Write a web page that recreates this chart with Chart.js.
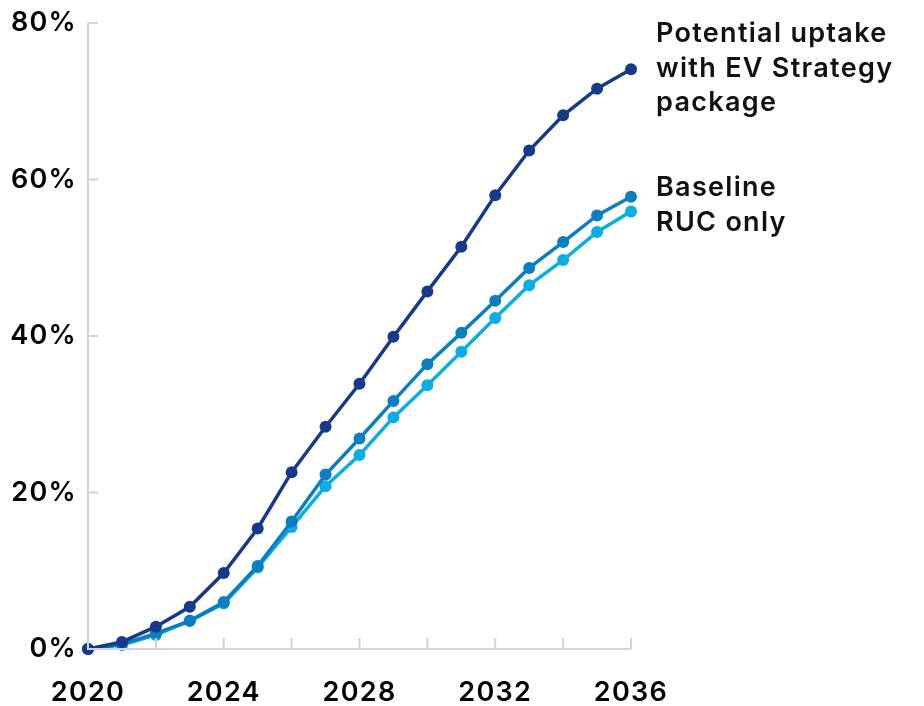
<!DOCTYPE html>
<html>
<head>
<meta charset="utf-8">
<script src="https://cdn.jsdelivr.net/npm/chart.js@4/dist/chart.umd.min.js"></script>
<style>
html,body{margin:0;padding:0;background:#fff;}
#wrap{width:924px;height:706px;position:relative;}
</style>
</head>
<body>
<div id="wrap"><canvas id="c" width="924" height="706"></canvas></div>
<script>
const years = [2020,2021,2022,2023,2024,2025,2026,2027,2028,2029,2030,2031,2032,2033,2034,2035,2036];
const evStrategy = [0,0.9,2.85,5.4,9.7,15.4,22.6,28.4,33.9,39.9,45.7,51.4,58.0,63.7,68.2,71.6,74.1];
const baseline   = [0,0.6,2.0,3.6,6.0,10.6,16.3,22.3,26.9,31.7,36.4,40.4,44.5,48.7,52.0,55.4,57.8];
const rucOnly    = [0,0.5,1.8,3.6,5.8,10.4,15.6,20.8,24.8,29.6,33.7,38.0,42.3,46.5,49.7,53.3,55.9];
const yTicks = [0,20,40,60,80];
const xLabelYears = [2020,2024,2028,2032,2036];
const labelEV = ['Potential uptake','with EV Strategy','package'];
const labelBase = ['Baseline','RUC only'];

const FONT = 'Inter, "Noto Sans", sans-serif';
const AXIS = '#d3d3d3';
const SPACING = '1.3px';

function pts(arr){ return years.map((y,i)=>({x:y,y:arr[i]})); }

const ticksPlugin = {
  id:'insideTicks',
  beforeUpdate(chart){ chart.ctx.letterSpacing = SPACING; },
  beforeLayout(chart){ chart.ctx.letterSpacing = SPACING; },
  beforeDraw(chart){ chart.ctx.letterSpacing = SPACING; },
  afterDraw(chart){
    const {ctx, chartArea:a, scales:{x,y}} = chart;
    ctx.save();
    ctx.strokeStyle = AXIS; ctx.lineWidth = 2;
    ctx.beginPath();
    ctx.moveTo(a.left, a.top); ctx.lineTo(a.left, a.bottom); ctx.lineTo(a.right, a.bottom);
    yTicks.forEach(v=>{ const py=y.getPixelForValue(v); ctx.moveTo(a.left,py); ctx.lineTo(a.left+10,py); });
    for(let yr=2022; yr<=2036; yr+=2){ const px=x.getPixelForValue(yr); ctx.moveTo(px,a.bottom); ctx.lineTo(px,a.bottom-11); }
    ctx.stroke();
    ctx.restore();
  },
  afterDatasetsDraw(chart){
    const {ctx, chartArea:a} = chart;
    ctx.save();
    ctx.letterSpacing = SPACING;
    ctx.fillStyle = '#111';
    ctx.font = '600 27px ' + FONT;
    ctx.textBaseline = 'middle';
    ctx.textAlign = 'left';
    const lh = 34.5;
    const m0 = chart.getDatasetMeta(0).data; const p0 = m0[m0.length-1];
    const tx = a.right + 25;
    labelEV.forEach((t,i)=> ctx.fillText(t, tx, p0.y - 35 + i*lh));
    const m1 = chart.getDatasetMeta(1).data; const p1 = m1[m1.length-1];
    const m2 = chart.getDatasetMeta(2).data; const p2 = m2[m2.length-1];
    const mid = (p1.y+p2.y)/2;
    labelBase.forEach((t,i)=> ctx.fillText(t, tx, mid - 16 + i*lh));
    ctx.restore();
  }
};

const ds = (label, arr, color)=>({
  label, data: pts(arr), borderColor: color, backgroundColor: color,
  borderWidth: 3.5, pointRadius: 6, pointHoverRadius: 6, pointBorderWidth: 0,
  tension: 0, clip: false
});

new Chart(document.getElementById('c'), {
  type:'line',
  data:{ datasets:[
    ds('Potential uptake with EV Strategy package', evStrategy, '#17398a'),
    ds('Baseline', baseline, '#0b7dc1'),
    ds('RUC only', rucOnly, '#0aaee4')
  ]},
  options:{
    responsive:false, animation:false,
    layout:{ padding:{ left:0, top:23, right:293, bottom:0 } },
    plugins:{ legend:{display:false}, tooltip:{enabled:false} },
    scales:{
      x:{
        type:'linear', min:2020, max:2036,
        border:{display:false},
        grid:{display:false, drawTicks:false},
        afterBuildTicks(s){ s.ticks = xLabelYears.map(v=>({value:v})); },
        afterFit(s){ s.height = 57; },
        ticks:{ color:'#000', font:{family:FONT, size:27, weight:'600'}, padding:28, maxRotation:0,
          callback:(v)=>String(v) }
      },
      y:{
        min:0, max:80,
        border:{display:false},
        grid:{display:false, drawTicks:false},
        afterBuildTicks(s){ s.ticks = yTicks.map(v=>({value:v})); },
        afterFit(s){ s.width = 88; s.paddingTop = 0; s.paddingBottom = 0; },
        ticks:{ color:'#000', font:{family:FONT, size:27, weight:'600', lineHeight:1}, padding:11,
          callback:(v)=>v+'%' }
      }
    }
  },
  plugins:[ticksPlugin]
});
</script>
</body>
</html>
